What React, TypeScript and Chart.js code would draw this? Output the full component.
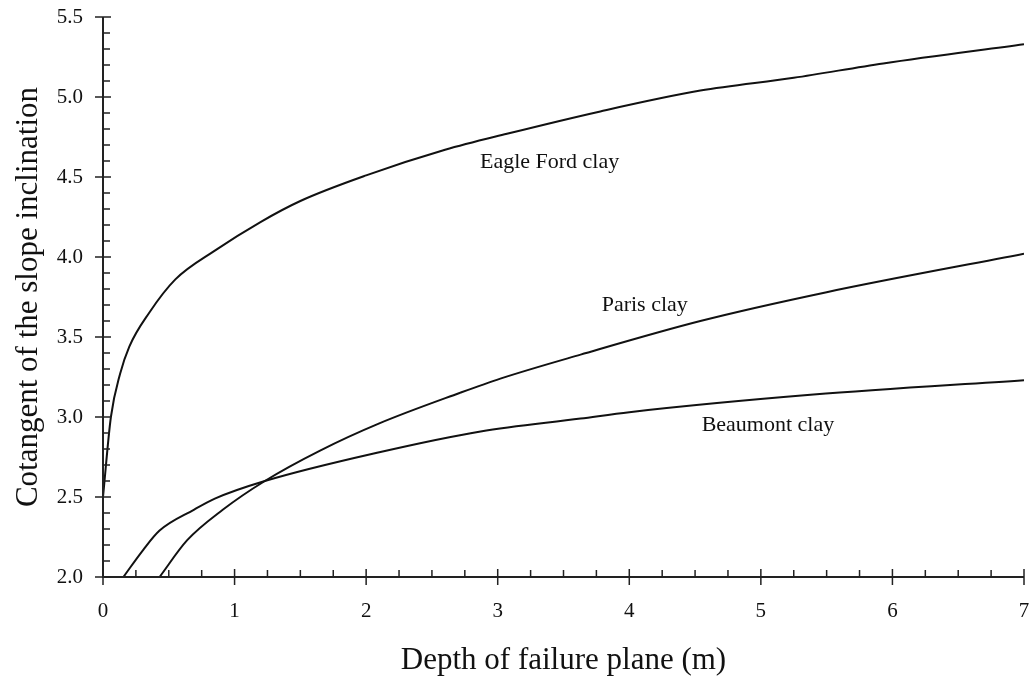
import React, { useEffect, useRef } from 'react';
import { Chart, registerables } from 'chart.js';

Chart.register(...registerables);

const eagleFordX = [0, 0.06, 0.13, 0.2, 0.35, 0.55, 0.85, 1.2, 1.5, 2.0, 2.6, 3.07, 3.78, 4.54, 5.25, 5.93, 7.0];
const eagleFordY = [2.5, 3.0, 3.27, 3.44, 3.65, 3.86, 4.04, 4.22, 4.35, 4.51, 4.67, 4.77, 4.91, 5.04, 5.12, 5.21, 5.33];

const parisX = [0.43, 0.64, 0.91, 1.23, 1.65, 2.1, 2.71, 3.02, 3.63, 4.54, 5.5, 7.0];
const parisY = [2.0, 2.23, 2.42, 2.6, 2.79, 2.96, 3.15, 3.24, 3.39, 3.6, 3.78, 4.02];

const beaumontX = [0.155, 0.306, 0.43, 0.69, 0.85, 1.23, 2.1, 2.87, 3.63, 4.0, 5.4, 7.0];
const beaumontY = [2.0, 2.17, 2.29, 2.42, 2.49, 2.6, 2.78, 2.91, 2.99, 3.03, 3.14, 3.23];

const curveLabels = ['Eagle Ford clay', 'Paris clay', 'Beaumont clay'];
const curveLabelX = [2.865, 3.79, 4.55];
const curveLabelY = [4.59, 3.7, 2.95];

const xMin = 0;
const xMax = 7;
const xMajorStep = 1;
const xMinorStep = 0.25;
const yMin = 2.0;
const yMax = 5.5;
const yMajorStep = 0.5;
const yMinorStep = 0.1;

const xTitle = 'Depth of failure plane (m)';
const yTitle = 'Cotangent of the slope inclination';

const FONT = '"Liberation Serif", "Times New Roman", serif';

const toPoints = (xs: number[], ys: number[]) => xs.map((x, i) => ({ x, y: ys[i] }));

const axesPlugin = {
  id: 'customAxes',
  afterDraw(chart: any) {
    const { ctx, chartArea, scales } = chart;
    const xs = scales.x;
    const ys = scales.y;
    ctx.save();
    ctx.strokeStyle = '#222';
    ctx.lineWidth = 2;
    ctx.beginPath();
    ctx.moveTo(chartArea.left, chartArea.top);
    ctx.lineTo(chartArea.left, chartArea.bottom);
    ctx.lineTo(chartArea.right, chartArea.bottom);
    ctx.stroke();

    ctx.lineWidth = 1.5;
    ctx.beginPath();
    const nX = Math.round((xMax - xMin) / xMinorStep);
    for (let i = 0; i <= nX; i++) {
      const v = xMin + i * xMinorStep;
      const px = xs.getPixelForValue(v);
      const major = Math.abs(v / xMajorStep - Math.round(v / xMajorStep)) < 1e-6;
      if (major) {
        ctx.moveTo(px, chartArea.bottom - 8);
        ctx.lineTo(px, chartArea.bottom + 8);
      } else {
        ctx.moveTo(px, chartArea.bottom);
        ctx.lineTo(px, chartArea.bottom - 7);
      }
    }
    const nY = Math.round((yMax - yMin) / yMinorStep);
    for (let i = 0; i <= nY; i++) {
      const v = yMin + i * yMinorStep;
      const py = ys.getPixelForValue(v);
      const major = Math.abs(v / yMajorStep - Math.round(v / yMajorStep)) < 1e-6;
      if (major) {
        ctx.moveTo(chartArea.left - 8, py);
        ctx.lineTo(chartArea.left + 8, py);
      } else {
        ctx.moveTo(chartArea.left, py);
        ctx.lineTo(chartArea.left + 7, py);
      }
    }
    ctx.stroke();

    ctx.fillStyle = '#111';
    ctx.font = '22px ' + FONT;
    ctx.textAlign = 'left';
    ctx.textBaseline = 'middle';
    curveLabels.forEach((t, i) => {
      ctx.fillText(t, xs.getPixelForValue(curveLabelX[i]), ys.getPixelForValue(curveLabelY[i]));
    });
    ctx.restore();
  },
};

export default function App() {
  const ref = useRef<HTMLCanvasElement | null>(null);
  useEffect(() => {
    if (!ref.current) return;
    const line = { borderColor: '#111', borderWidth: 2, pointRadius: 0, showLine: true, fill: false, cubicInterpolationMode: 'monotone' as const };
    const chart = new Chart(ref.current, {
      type: 'scatter',
      data: {
        datasets: [
          { label: curveLabels[0], data: toPoints(eagleFordX, eagleFordY), ...line },
          { label: curveLabels[1], data: toPoints(parisX, parisY), ...line },
          { label: curveLabels[2], data: toPoints(beaumontX, beaumontY), ...line },
        ],
      },
      options: {
        animation: false,
        responsive: false,
        maintainAspectRatio: false,
        layout: { padding: { top: 17, right: 10, left: 0, bottom: 0 } },
        plugins: { legend: { display: false }, tooltip: { enabled: false } },
        scales: {
          x: {
            type: 'linear',
            min: xMin,
            max: xMax,
            grid: { display: false, drawTicks: false },
            border: { display: false },
            ticks: { stepSize: xMajorStep, color: '#111', padding: 22, font: { family: FONT, size: 21 } },
            title: { display: true, text: xTitle, color: '#111', font: { family: FONT, size: 31 }, padding: { top: 10, bottom: 6 } },
            afterFit(scale: any) { scale.height = 108; scale.paddingLeft = 0; scale.paddingRight = 0; },
          },
          y: {
            type: 'linear',
            min: yMin,
            max: yMax,
            grid: { display: false, drawTicks: false },
            border: { display: false },
            ticks: { stepSize: yMajorStep, color: '#111', padding: 20, font: { family: FONT, size: 21 }, callback: (v: any) => Number(v).toFixed(1) },
            title: { display: true, text: yTitle, color: '#111', font: { family: FONT, size: 31 }, padding: { top: 10, bottom: 10 } },
            afterFit(scale: any) { scale.width = 103; scale.paddingTop = 0; scale.paddingBottom = 0; },
          },
        },
      },
      plugins: [axesPlugin],
    });
    return () => chart.destroy();
  }, []);
  return (
    <div style={{ position: 'fixed', left: 0, top: 0, width: 1034, height: 685, background: '#fff' }}>
      <canvas ref={ref} width={1034} height={685} style={{ display: 'block', width: 1034, height: 685 }} />
    </div>
  );
}
